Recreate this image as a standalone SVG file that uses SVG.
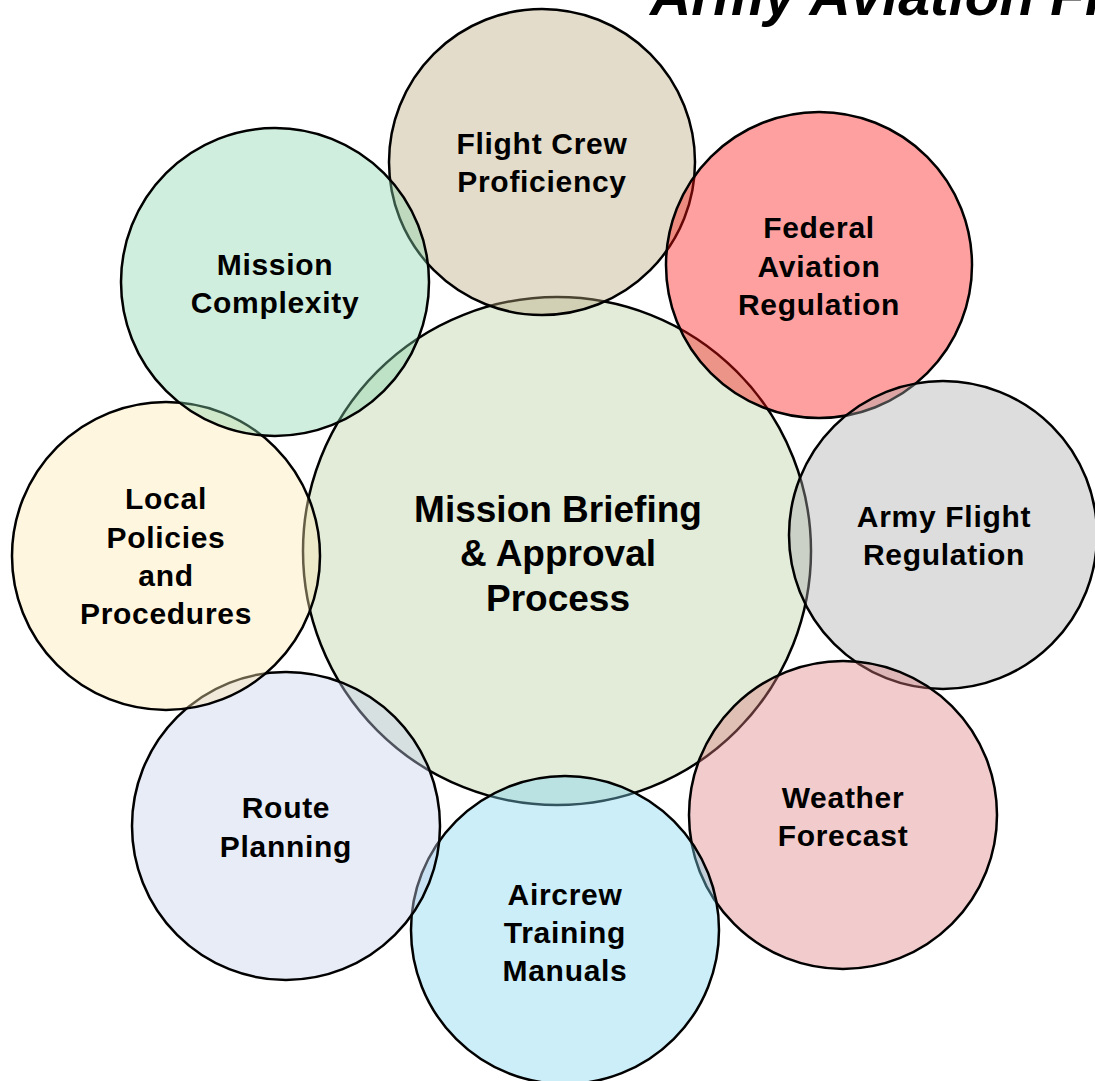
<svg xmlns="http://www.w3.org/2000/svg" width="1095" height="1081" viewBox="0 0 1095 1081">
<style>
.c{stroke:#000;stroke-width:2.5;fill-opacity:0.4}
.t{font-family:"Liberation Sans",Arial,sans-serif;font-weight:bold;font-size:30px;text-anchor:middle;fill:#000;letter-spacing:0.7px}
.m{font-family:"Liberation Sans",Arial,sans-serif;font-weight:bold;font-size:37px;text-anchor:middle;fill:#000}
.title{font-family:"Liberation Sans",Arial,sans-serif;font-weight:bold;font-style:italic;font-size:57px;fill:#000}
</style>
<rect width="1095" height="1081" fill="#fff"/>
<text class="title" x="650" y="15">Army Aviation Flight</text>
<g id="center">
<circle class="c" cx="557" cy="551" r="254" fill="#b7d0a0"/>
</g>
<g id="flight-crew">
<circle class="c" cx="542" cy="162" r="153" fill="#b9a87d"/>
<text class="t" x="542" y="154">Flight Crew</text>
<text class="t" x="542" y="192">Proficiency</text>
</g>
<g id="federal">
<circle class="c" cx="819" cy="265" r="153" fill="#ff1212"/>
<text class="t" x="819" y="238">Federal</text>
<text class="t" x="819" y="277">Aviation</text>
<text class="t" x="819" y="315">Regulation</text>
</g>
<g id="army">
<circle class="c" cx="943" cy="535" r="154" fill="#aaaaaa"/>
<text class="t" x="944" y="527">Army Flight</text>
<text class="t" x="944" y="565">Regulation</text>
</g>
<g id="weather">
<circle class="c" cx="843" cy="815" r="154" fill="#df8080"/>
<text class="t" x="843" y="808">Weather</text>
<text class="t" x="843" y="846">Forecast</text>
</g>
<g id="aircrew">
<circle class="c" cx="565" cy="930" r="154" fill="#80d5f0"/>
<text class="t" x="565" y="905">Aircrew</text>
<text class="t" x="565" y="943">Training</text>
<text class="t" x="565" y="981">Manuals</text>
</g>
<g id="route">
<circle class="c" cx="286" cy="826" r="154" fill="#c6d0eb"/>
<text class="t" x="286" y="818">Route</text>
<text class="t" x="286" y="857">Planning</text>
</g>
<g id="local">
<circle class="c" cx="166" cy="556" r="154" fill="#ffe9b2"/>
<text class="t" x="166" y="509">Local</text>
<text class="t" x="166" y="548">Policies</text>
<text class="t" x="166" y="586">and</text>
<text class="t" x="166" y="624">Procedures</text>
</g>
<g id="complexity">
<circle class="c" cx="275" cy="282" r="154" fill="#8ad5aa"/>
<text class="t" x="275" y="275">Mission</text>
<text class="t" x="275" y="313">Complexity</text>
</g>
<g id="center-label">
<text class="m" x="558" y="522">Mission Briefing</text>
<text class="m" x="558" y="566">&amp; Approval</text>
<text class="m" x="558" y="611">Process</text>
</g>
<g id="connectors"/>
</svg>
